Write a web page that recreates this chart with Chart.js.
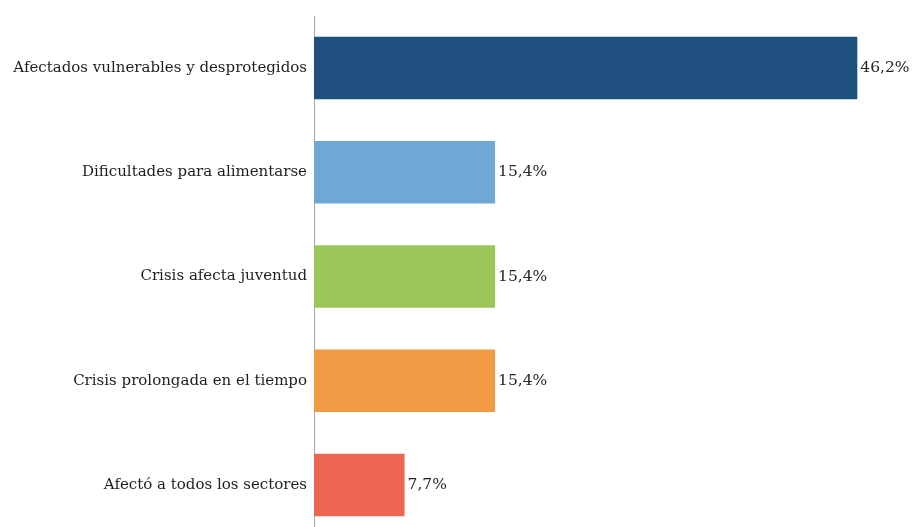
<!DOCTYPE html>
<html>
<head>
<meta charset="utf-8">
<script src="https://cdn.jsdelivr.net/npm/chart.js@4"></script>
<style>
  html, body { margin: 0; padding: 0; background: #fff; overflow: hidden; }
  #wrap { position: relative; width: 914px; height: 553px; }
</style>
</head>
<body>
<div id="wrap"><canvas id="chart"></canvas></div>
<script>
// Chart data
const categories = [
  'Afectados vulnerables y desprotegidos',
  'Dificultades para alimentarse',
  'Crisis afecta juventud',
  'Crisis prolongada en el tiempo',
  'Afectó a todos los sectores'
];
const values = [46.2, 15.4, 15.4, 15.4, 7.7];
const barColors = ['#1f5080', '#6fa7d5', '#9bc65a', '#f29a43', '#ec6651'];

const fontFamily = '"DejaVu Serif", serif';

// Draw the percentage labels at the end of each bar
const valueLabels = {
  id: 'valueLabels',
  afterDatasetsDraw(chart) {
    const ctx = chart.ctx;
    const meta = chart.getDatasetMeta(0);
    ctx.save();
    ctx.font = '15.5px ' + fontFamily;
    ctx.fillStyle = '#262626';
    ctx.textAlign = 'left';
    ctx.textBaseline = 'middle';
    meta.data.forEach((bar, i) => {
      ctx.fillText(values[i].toFixed(1).replace('.', ',') + '%', bar.x + 3, bar.y);
    });
    ctx.restore();
  }
};

const ctx = document.getElementById('chart');
new Chart(ctx, {
  type: 'bar',
  data: {
    labels: categories,
    datasets: [{
      data: values,
      backgroundColor: barColors,
      borderWidth: 0,
      categoryPercentage: 1,
      barPercentage: 0.6
    }]
  },
  options: {
    indexAxis: 'y',
    responsive: true,
    maintainAspectRatio: false,
    animation: false,
    layout: { padding: { top: 14, right: 12, left: 0, bottom: 0 } },
    plugins: {
      legend: { display: false },
      tooltip: { enabled: false }
    },
    scales: {
      x: {
        display: false,
        min: 0,
        max: 50
      },
      y: {
        afterFit(axis) { axis.width = 314; },
        grid: { display: false, drawTicks: false },
        border: { display: true, color: '#a6a6a6', width: 1 },
        ticks: {
          color: '#1e1e1e',
          padding: 7,
          font: { family: fontFamily, size: 15 }
        }
      }
    }
  },
  plugins: [valueLabels]
});
</script>
</body>
</html>
